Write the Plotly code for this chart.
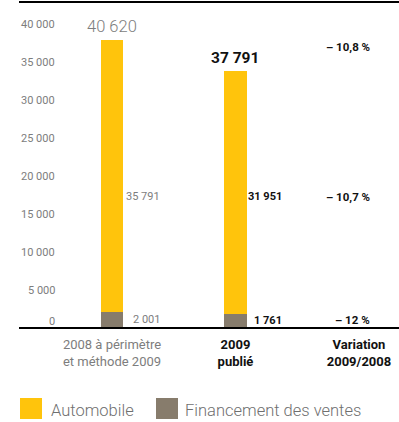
import plotly.graph_objects as go

# ---------------- data ----------------
CATEGORIES = ["2008", "2009", "Variation"]
CATEGORY_LABELS = [
    "2008 à périmètre<br>et méthode 2009",
    "<b><span style='color:#111111'>2009</span></b><br><b><span style='color:#111111'>publié</span></b>",
    "<b><span style='color:#111111'>Variation</span></b><br><b><span style='color:#111111'>2009/2008</span></b>",
]
SERIES_NAMES = ["Automobile", "Financement des ventes"]
FINANCEMENT = [2001, 1761, None]
AUTOMOBILE = [35791, 31951, None]
TOTALS = [40620, 37791]
VARIATIONS = ["– 10,8 %", "– 10,7 %", "– 12 %"]  # total, automobile, financement
Y_TICKS = [0, 5000, 10000, 15000, 20000, 25000, 30000, 35000, 40000]
Y_TICK_LABELS = ["0", "5 000", "10 000", "15 000", "20 000", "25 000", "30 000", "35 000", "40 000"]

# ---------------- style ----------------
YELLOW = "#FFC40C"
GREY = "#877C6C"
TXT_GREY = "#7d7d7d"
TXT_BLACK = "#111111"
FONT = "Roboto"
W, H = 399, 422
ML, MR, MT, MB = 19, 0, 3, 95
PW, PH = W - ML - MR, H - MT - MB
UNITS_PER_PX = 131.5
YMAX = PH * UNITS_PER_PX
AUTO_ROW_Y = 17100  # vertical row of the automobile labels


def fmt(v):
    return f"{v:,}".replace(",", " ")


def px_x(px):
    return (px - ML) / PW


def px_y(py):
    return 1 - (py - MT) / PH


fig = go.Figure()
fig.add_trace(go.Bar(x=CATEGORIES, y=FINANCEMENT, name=SERIES_NAMES[1],
                     marker=dict(color=GREY, line=dict(width=0)), width=0.182))
fig.add_trace(go.Bar(x=CATEGORIES, y=AUTOMOBILE, name=SERIES_NAMES[0],
                     marker=dict(color=YELLOW, line=dict(width=0)), width=0.182))

annotations = []
# y tick labels (right-aligned, inside the ruled area)
for v, lab in zip(Y_TICKS, Y_TICK_LABELS):
    annotations.append(dict(xref="paper", yref="y", x=px_x(57), y=v, yshift=6 if v == 0 else -1.5,
                            text=lab, showarrow=False, xanchor="right", yanchor="middle",
                            font=dict(family=FONT, size=11, color=TXT_GREY)))
# totals above bars
for i in range(2):
    top = AUTOMOBILE[i] + FINANCEMENT[i]
    style = dict(size=16.5, color=TXT_GREY, weight=300) if i == 0 else dict(size=15.5, color=TXT_BLACK, weight="bold")
    annotations.append(dict(x=i, y=top, text=fmt(TOTALS[i]), showarrow=False,
                            yanchor="middle", yshift=13, font=dict(family=FONT, **style)))
# segment labels
for i in range(2):
    col = TXT_GREY if i == 0 else TXT_BLACK
    txt_a = fmt(AUTOMOBILE[i]) if i == 0 else f"<b>{fmt(AUTOMOBILE[i])}</b>"
    txt_f = fmt(FINANCEMENT[i]) if i == 0 else f"<b>{fmt(FINANCEMENT[i])}</b>"
    xs = 50 if i == 0 else 49
    annotations.append(dict(x=i, y=AUTO_ROW_Y, text=txt_a, showarrow=False,
                            xanchor="right", xshift=xs, font=dict(family=FONT, size=11, color=col)))
    annotations.append(dict(x=i, y=FINANCEMENT[i] / 2, text=txt_f, showarrow=False,
                            xanchor="right", xshift=xs, font=dict(family=FONT, size=11, color=col)))
# variation column
var_rows = [(AUTOMOBILE[1] + FINANCEMENT[1], 24), (AUTO_ROW_Y, 0), (FINANCEMENT[1] / 2, 0)]
for txt, (yy, ys) in zip(VARIATIONS, var_rows):
    annotations.append(dict(x=2, y=yy, yshift=ys, text=f"<b>{txt}</b>", showarrow=False,
                            xanchor="right", xshift=13,
                            font=dict(family=FONT, size=11.5, color=TXT_BLACK)))

# custom legend
shapes = []
leg = [(20, 49, YELLOW, SERIES_NAMES[0]), (156, 183, GREY, SERIES_NAMES[1])]
for sx, tx, colr, name in leg:
    shapes.append(dict(type="rect", xref="paper", yref="paper",
                       x0=px_x(sx), x1=px_x(sx + 22), y0=px_y(419), y1=px_y(398),
                       fillcolor=colr, line=dict(width=0)))
    annotations.append(dict(xref="paper", yref="paper", x=px_x(tx), y=px_y(410), text=name,
                            showarrow=False, xanchor="left", yanchor="middle",
                            font=dict(family=FONT, size=16.5, color="#6f6f6f", weight=300)))

# top rule (backup shape; the mirrored axis line draws it as well)
shapes.append(dict(type="rect", xref="paper", yref="paper", x0=0, x1=1,
                   y0=px_y(3), y1=px_y(1), fillcolor="#000000", line=dict(width=0)))

fig.update_layout(
    width=W, height=H, margin=dict(l=ML, r=MR, t=MT, b=MB, pad=0),
    barmode="stack", showlegend=False,
    plot_bgcolor="white", paper_bgcolor="white",
    font=dict(family=FONT, color=TXT_GREY),
    annotations=annotations, shapes=shapes,
    xaxis=dict(type="category", categoryorder="array", categoryarray=CATEGORIES,
               range=[-0.753, 2.324], tickmode="array", tickvals=CATEGORIES, ticktext=CATEGORY_LABELS,
               showgrid=False, showline=True, mirror=True, linecolor="black", linewidth=1.7,
               zeroline=False, ticks="",
               tickfont=dict(family=FONT, size=13, color=TXT_GREY), ticklabelstandoff=5),
    yaxis=dict(range=[0, YMAX], showticklabels=False, showgrid=False, showline=False,
               zeroline=False, ticks=""),
)

fig.write_html("out.html")
